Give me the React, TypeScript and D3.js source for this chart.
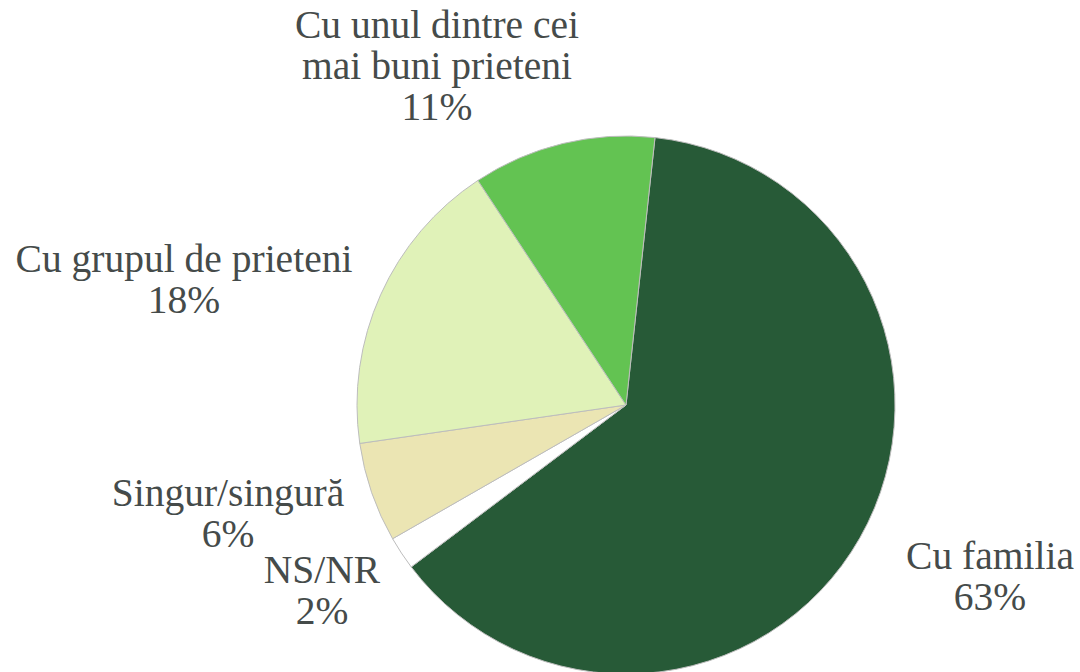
import React from "react";
import * as d3 from "d3";

const categories = ["Cu familia", "NS/NR", "Singur/singură", "Cu grupul de prieteni", "Cu unul dintre cei mai buni prieteni"];
const values = [63, 2, 6, 18, 11];
const colors = ["#275a37", "#ffffff", "#ebe5b3", "#e0f2b8", "#63c352"];
const labelLines = [
  ["Cu familia", "63%"],
  ["NS/NR", "2%"],
  ["Singur/singură", "6%"],
  ["Cu grupul de prieteni", "18%"],
  ["Cu unul dintre cei", "mai buni prieteni", "11%"],
];
const labelPos: [number, number][] = [
  [990, 569],
  [322, 583],
  [228, 506],
  [184, 272],
  [437, 38],
];

export default function App() {
  const W = 1080, H = 672;
  const cx = 626, cy = 405, r = 269;
  const start = 0.108;
  const pie = d3.pie<number>().sort(null).value((d) => d).startAngle(start).endAngle(start + 2 * Math.PI);
  const arcs = pie(values);
  const arc = d3.arc<d3.PieArcDatum<number>>().innerRadius(0).outerRadius(r);
  return (
    <svg width={W} height={H} style={{ position: "absolute", left: 0, top: 0 }}>
      <g transform={`translate(${cx},${cy})`}>
        {arcs.map((a, i) => (
          <path key={categories[i]} d={arc(a) || ""} fill={colors[i]} stroke="#bdbdbd" strokeWidth={1} />
        ))}
      </g>
      {labelLines.map((lines, i) => (
        <text key={i} x={labelPos[i][0]} y={labelPos[i][1]} textAnchor="middle" fontFamily="Liberation Serif" fontSize={39.5} fill="#454b4a">
          {lines.map((l, j) => (
            <tspan key={j} x={labelPos[i][0]} dy={j === 0 ? 0 : 41}>{l}</tspan>
          ))}
        </text>
      ))}
    </svg>
  );
}
